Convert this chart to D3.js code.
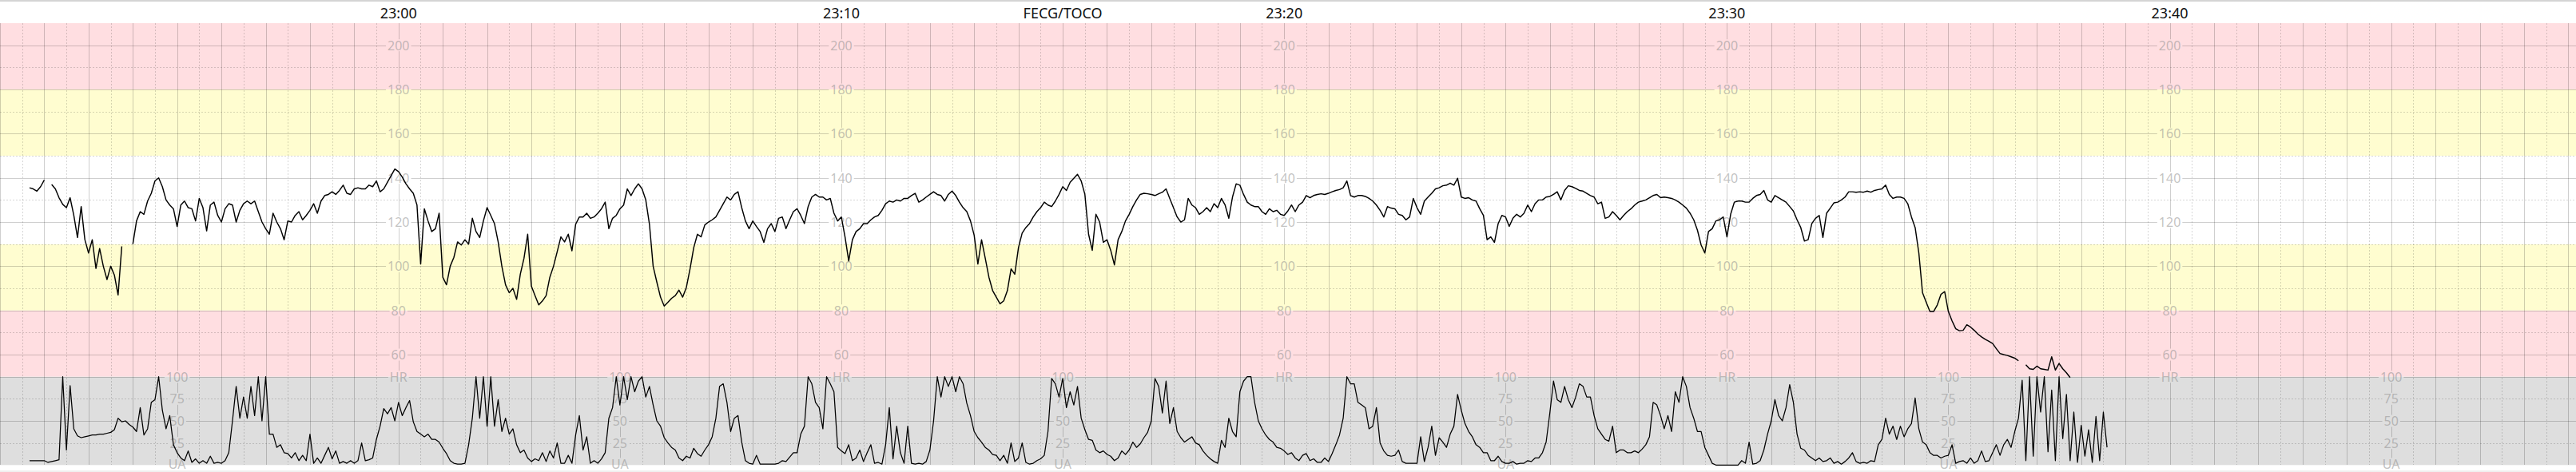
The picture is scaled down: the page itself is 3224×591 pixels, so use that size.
<!DOCTYPE html>
<html><head><meta charset="utf-8">
<script src="https://cdn.jsdelivr.net/npm/d3@7"></script>
<style>html,body{margin:0;padding:0;background:#fff;overflow:hidden}svg{display:block}</style>
</head><body><svg id="chart" width="3224" height="591"></svg>
<script>
// ---------------- DATA ----------------
const startTime = "22:51:00";      // left edge of the strip
const stepSeconds = 5;             // sampling step of the traces
const hrStartIndex = 8;            // first HR sample index
const hrValues = [
/*8*/   135.5,135,134,136,139,null,137,135,131,128,
/*18*/  126.5,131,123,113,127,112,106,112,99,108,
/*28*/  100,94,100,96,87,109,null,null,110,120.5,
/*38*/  124.7,123.5,129.5,133,138.6,140,136,130,127.7,126,
/*48*/  118,127.7,129.5,126.5,126,120.5,130.7,126.5,116,127.7,
/*58*/  129,123,120,126,128.3,127.7,120,125.3,128.3,129.5,
/*68*/  128.3,129.5,124.7,120,117,114.5,124,120,117,112,
/*78*/  120.5,120,123,124.7,121,123,125.3,128.3,124,129.5,
/*88*/  132,132.5,133.7,132.5,134.3,136.7,133,132.5,135,135.5,
/*98*/  135,135,136.7,136,138.6,133.7,135,138,141,144,
/*108*/ 142.8,140.4,137.3,135,133,127.7,101,126,120.5,115.7,
/*118*/ 117,124,95,91.6,100,104,111,109.6,112,110,
/*128*/ 121.7,115.7,113,120.5,126.5,123,119.3,111,100,91.6,
/*138*/ 88,90,85,96.4,103.6,114.5,91,86.7,82.5,84.3,
/*148*/ 86.7,95,100,106.6,113.3,111,114.5,107,119,122.3,
/*158*/ 122.3,124,121.7,122.3,124,126,129,117,121.7,123,
/*168*/ 126,127.7,135,132,135,137.3,135,130,119,100,
/*178*/ 92.8,86,82,83.7,85.5,86.7,89.2,86,90.4,98.8,
/*188*/ 108.4,114.5,113.3,118.7,120,121,122.3,125.3,128.3,131.3,
/*198*/ 130,132.5,133.7,126.5,120.5,117,120.5,118,115.7,110.8,
/*208*/ 117,119.3,115.7,121.7,122.3,117,121,124.7,126,123,
/*218*/ 119.3,127,131.3,132.5,131.3,131.3,130,130.7,124,120.5,
/*228*/ 122.3,113.3,102.4,112,115.7,117,119.3,119.3,121,122.3,
/*238*/ 123,125.3,128.3,129.5,129,130,129.5,130.7,130.7,132,
/*248*/ 133,129,130,131.3,132.5,133.7,132.5,132,129.5,132.5,
/*258*/ 134,132,129,126.5,124.7,120.5,114,101,112,103.6,
/*268*/ 95,89,86,83,84.3,89,98.8,96.4,108.4,115,
/*278*/ 117.5,119.3,122.3,124.7,126.5,129,127.7,127,129.5,132.5,
/*288*/ 136,134.3,138,139.8,141.6,138.6,132.5,114.5,107.2,123.5,
/*298*/ 120,110.8,112,107.2,100.6,112,115.7,120.5,123.5,127,
/*308*/ 130,132.5,133,132.8,132.5,132,132.8,133.5,135,130.7,
/*318*/ 126.5,122.3,120,121,130.7,127.7,126.5,123.5,124.7,126.5,
/*328*/ 124.7,128.3,126.5,130.7,127.7,121.7,131.3,137.3,136.7,132.5,
/*338*/ 129,127.7,127,127,124.7,123.5,126,124.7,125.3,123.5,
/*348*/ 123,125,127.7,124.7,127.7,129,132,131,132,132.5,
/*358*/ 132.8,132.5,133,133.7,134.3,134.7,135.5,138.6,132,131.3,
/*368*/ 132,132,131.6,130.7,129.5,127.7,125.3,122.3,127,126.3,
/*378*/ 126,123.5,123,121,122.3,130.7,126.5,123.5,129.5,131.3,
/*388*/ 133,135,135.5,136.4,136.7,137.6,136.7,139.8,131.3,130.7,
/*398*/ 131,130,129.5,126,123,112,113.3,110.8,119.3,123,
/*408*/ 122.3,118,121.7,123.5,122.3,124,127.7,124.7,128.3,130,
/*418*/ 130,131.3,131.6,132.5,133.7,130,134.3,136.4,136,135.2,
/*428*/ 134.3,134,133,132,131.3,128.3,129,121.7,122.3,124.7,
/*438*/ 123,121,123,124.7,126,127.7,129,129.5,130,131,
/*448*/ 132,132.5,131,131.3,131,130.7,130,129,127.7,126.3,
/*458*/ 124,121,116.3,109.6,106,115.7,117,120.5,121,122.3,
/*468*/ 113.3,123.5,129,129.5,129.5,129,129,130.7,132,132.5,
/*478*/ 134.3,130,129,132,131,130,129,127,125,121,
/*488*/ 117.5,111.4,112,119.3,121.7,123,113,124,126.3,128.7,
/*498*/ 129,130,131.3,133.7,133.7,133.5,133.7,133.5,134,133.5,
/*508*/ 134.3,134.7,135,136.7,132.5,130.7,131.3,131.3,130.7,128.3,
/*518*/ 122.3,117.5,106,88,83.7,79.5,79.5,82.5,87.3,88.5,
/*528*/ 79.5,75.3,71.7,70.8,71,73.5,72.5,71,69.3,68,
/*538*/ 66.9,66,65,62.7,60.5,60,59.6,59,58.4,57.2,
/*548*/ null,55.4,53.6,53.3,54.8,53.6,53.3,53,59,53,
/*558*/ 56,53.6,51.8,49.6
];
const uaStartIndex = 8;            // first TOCO sample index
const uaValues = [
/*8*/   5,5,5,5,5,3,4,5,6,100,
/*18*/  17,90,41,33,31,32,33,34,34,35,
/*28*/  35,36,37,40,53,49,50,46,43,38,
/*38*/  65,34,41,71,74,100,62,41,56,23,
/*48*/  14,8,5,16,3,7,2,5,2,10,
/*58*/  2,3,2,5,14,50,89,53,77,53,
/*68*/  89,56,100,50,100,35,35,20,23,14,
/*78*/  13,8,14,5,11,5,35,2,8,2,
/*88*/  11,20,7,16,2,4,2,5,2,5,
/*98*/  25,5,6,8,29,44,64,58,65,50,
/*108*/ 71,56,65,73,49,38,35,32,35,29,
/*118*/ 29,26,19,13,5,2,1,1,2,23,
/*128*/ 53,100,53,100,44,100,44,74,38,53,
/*138*/ 35,41,23,14,17,8,4,7,5,14,
/*148*/ 4,16,8,25,2,2,11,2,34,56,
/*158*/ 17,32,2,5,2,7,14,53,65,100,
/*168*/ 68,100,74,100,83,95,100,77,89,68,
/*178*/ 50,44,31,25,20,17,8,5,10,8,
/*188*/ 19,13,10,17,23,32,53,89,92,71,
/*198*/ 38,53,56,26,5,2,1,11,1,1,
/*208*/ 1,1,1,2,5,4,9,14,14,35,
/*218*/ 44,100,92,71,65,41,100,92,83,20,
/*228*/ 16,13,23,5,8,17,4,14,23,2,
/*238*/ 3,1,23,65,7,44,14,2,44,2,
/*248*/ 1,2,1,4,17,50,100,77,100,89,
/*258*/ 100,83,100,92,70,56,38,31,26,20,
/*268*/ 17,12,11,5,11,2,25,4,8,25,
/*278*/ 3,1,2,5,7,11,38,98,92,77,
/*288*/ 98,65,83,68,89,53,40,29,28,17,
/*298*/ 14,16,12,10,5,8,16,12,17,26,
/*308*/ 20,24,31,37,50,98,89,59,95,47,
/*318*/ 65,38,31,26,29,32,25,23,16,11,
/*328*/ 7,4,2,28,20,53,38,32,83,95,
/*338*/ 100,100,71,50,41,34,29,26,20,19,
/*348*/ 16,12,14,8,5,11,13,5,7,3,
/*358*/ 3,8,4,13,23,34,53,100,92,92,
/*368*/ 71,68,65,41,44,65,25,16,11,10,
/*378*/ 11,17,4,2,2,2,2,32,4,20,
/*388*/ 44,11,31,26,20,35,44,80,62,47,
/*398*/ 38,32,23,20,14,14,5,5,10,4,
/*408*/ 2,2,4,1,2,2,5,4,8,8,
/*418*/ 14,26,59,95,74,71,89,74,65,77,
/*428*/ 92,89,77,77,56,41,35,29,27,44,
/*438*/ 14,17,17,14,14,16,14,18,23,32,
/*448*/ 71,68,56,41,56,38,83,71,100,89,
/*458*/ 65,53,38,38,20,11,2,0,0,0,
/*468*/ 0,0,0,0,5,2,26,1,2,5,
/*478*/ 17,35,50,74,56,50,65,91,71,35,
/*488*/ 19,17,11,8,5,8,4,5,8,2,
/*498*/ 4,1,4,8,14,4,2,3,2,5,
/*508*/ 4,23,29,53,35,44,29,44,32,41,
/*518*/ 47,76,41,26,23,14,11,11,8,10,
/*528*/ 11,23,2,4,5,2,8,2,5,16,
/*538*/ 4,5,14,23,11,23,29,20,38,53,
/*548*/ 96,5,100,10,100,60,100,15,85,5,
/*558*/ 100,30,80,5,60,3,45,10,40,3,
/*568*/ 55,5,60,20
];
const timeTicks = ["23:00","23:10","23:20","23:30","23:40"];          // header labels + HR scales
const uaAxisTimes = ["22:55","23:05","23:15","23:25","23:35","23:45"]; // UA scales
const hrTicks = [200,180,160,140,120,100,80,60];
const uaTicks = [100,75,50,25];
const hrZones = [[50,80,"alarm"],[80,110,"warn"],[110,150,"normal"],[150,180,"warn"],[180,210,"alarm"]];
const title = "FECG/TOCO";
const titleTime = "23:15";

// ---------------- LAYOUT ----------------
const W = 3224, H = 591;
const pxPerMinute = 55.42;
const zoneColor = {alarm:"#ffdee1", warn:"#fffdd0", normal:"#ffffff"};
const tocoColor = "#dedede";
const labelFont = "'Noto Sans','Open Sans',sans-serif";

const svg = d3.select("#chart");
const parseTime = d3.timeParse("%H:%M:%S");
const parseHM = d3.timeParse("%H:%M");
const t0 = parseTime(startTime);
const tEnd = new Date(+t0 + W / pxPerMinute * 60000);
const x = d3.scaleTime().domain([t0, tEnd]).range([0, W]);
const yHR = d3.scaleLinear().domain([50, 210]).range([471.7, 29]);
const yUA = d3.scaleLinear().domain([0, 100]).range([582.3, 471.7]);

svg.append("rect").attr("width", W).attr("height", H).attr("fill", "#fff");

// zones
svg.append("g").selectAll("rect").data(hrZones).join("rect")
  .attr("x", 0).attr("width", W)
  .attr("y", d => yHR(d[1])).attr("height", d => yHR(d[0]) - yHR(d[1]))
  .attr("fill", d => zoneColor[d[2]]);
svg.append("rect").attr("x", 0).attr("width", W)
  .attr("y", yUA(100)).attr("height", yUA(0) - yUA(100)).attr("fill", tocoColor);

// mask for label gaps
const defs = svg.append("defs");
const mask = defs.append("mask").attr("id", "gridMask")
  .attr("maskUnits", "userSpaceOnUse").attr("x", 0).attr("y", 0).attr("width", W).attr("height", H);
mask.append("rect").attr("width", W).attr("height", H).attr("fill", "#fff");

const grid = svg.append("g").attr("mask", "url(#gridMask)").attr("shape-rendering", "crispEdges");
const majorStroke = "rgba(0,0,0,0.19)";
const minorStroke = "rgba(0,0,0,0.16)";

// vertical grid
const gridTimes = d3.timeSecond.every(30).range(t0, new Date(+tEnd + 1));
grid.selectAll("line.v").data(gridTimes).join("line")
  .attr("class", "v")
  .attr("x1", d => Math.round(x(d)) + 0.5).attr("x2", d => Math.round(x(d)) + 0.5)
  .attr("y1", yHR(210)).attr("y2", yUA(0))
  .attr("stroke", d => d.getSeconds() === 0 ? majorStroke : minorStroke)
  .attr("stroke-dasharray", d => d.getSeconds() === 0 ? null : "2,2");

// horizontal grid HR
const hrGrid = d3.range(50, 210, 10);
grid.selectAll("line.h").data(hrGrid).join("line")
  .attr("class", "h")
  .attr("x1", 0).attr("x2", W)
  .attr("y1", d => Math.round(yHR(d)) + 0.5).attr("y2", d => Math.round(yHR(d)) + 0.5)
  .attr("stroke", d => d % 20 === 0 || d === 50 ? majorStroke : minorStroke)
  .attr("stroke-dasharray", d => d % 20 === 0 || d === 50 ? null : "2,2");
// horizontal grid TOCO
const uaGrid = [25, 50, 75];
grid.selectAll("line.u").data(uaGrid).join("line")
  .attr("class", "u")
  .attr("x1", 0).attr("x2", W)
  .attr("y1", d => Math.round(yUA(d)) + 0.5).attr("y2", d => Math.round(yUA(d)) + 0.5)
  .attr("stroke", d => d === 50 ? majorStroke : minorStroke)
  .attr("stroke-dasharray", d => d === 50 ? null : "2,2");

// scale labels
const labels = svg.append("g")
  .attr("font-family", labelFont).attr("font-size", 16)
  .attr("fill", "#8f8f8f").attr("fill-opacity", 0.55)
  .attr("text-anchor", "middle");
const labelData = [];
timeTicks.forEach(t => {
  const xp = x(parseHM(t));
  hrTicks.forEach(v => labelData.push({x: xp, y: yHR(v), text: String(v)}));
  labelData.push({x: xp, y: yHR(50), text: "HR"});
});
uaAxisTimes.forEach(t => {
  const xp = x(parseHM(t));
  uaTicks.forEach(v => labelData.push({x: xp, y: yUA(v), text: String(v)}));
  labelData.push({x: xp, y: yUA(0) - 1.5, text: "UA"});
});
labels.selectAll("text").data(labelData).join("text")
  .attr("x", d => d.x).attr("y", d => d.y)
  .attr("dominant-baseline", "central")
  .text(d => d.text)
  .each(function(d) {
    const w = this.getComputedTextLength();
    mask.append("rect")
      .attr("x", d.x - w / 2 - 2).attr("y", d.y - 7.5)
      .attr("width", w + 4).attr("height", 15).attr("fill", "#000");
  });

// traces
const hrData = hrValues.map((v, k) => ({t: new Date(+t0 + (hrStartIndex + k) * stepSeconds * 1000), v}));
const uaData = uaValues.map((v, k) => ({t: new Date(+t0 + (uaStartIndex + k) * stepSeconds * 1000), v}));
const hrLine = d3.line().defined(d => d.v != null).x(d => x(d.t)).y(d => yHR(d.v));
const uaLine = d3.line().defined(d => d.v != null).x(d => x(d.t)).y(d => yUA(d.v));
svg.append("path").datum(uaData).attr("d", uaLine)
  .attr("fill", "none").attr("stroke", "#000").attr("stroke-width", 1.25).attr("stroke-linejoin", "round");
svg.append("path").datum(hrData).attr("d", hrLine)
  .attr("fill", "none").attr("stroke", "#000").attr("stroke-width", 1.45).attr("stroke-linejoin", "round");

// header
svg.append("rect").attr("x", 0).attr("y", 0).attr("width", W).attr("height", yHR(210)).attr("fill", "#fff");
svg.append("line").attr("x1", 0).attr("x2", W).attr("y1", 1).attr("y2", 1)
  .attr("stroke", "#d4d4d4").attr("stroke-width", 2);
const header = svg.append("g").attr("font-family", labelFont).attr("font-size", 18)
  .attr("fill", "#111").attr("text-anchor", "middle");
header.selectAll("text.time").data(timeTicks).join("text")
  .attr("class", "time").attr("x", d => x(parseHM(d))).attr("y", 22.5).text(d => d);
header.append("text").attr("x", x(parseHM(titleTime))).attr("y", 22.5).text(title);

// bottom rule
svg.append("line").attr("x1", 0).attr("x2", W).attr("y1", 590).attr("y2", 590)
  .attr("stroke", "#e2e2e2").attr("stroke-width", 1);
</script>
</body></html>
